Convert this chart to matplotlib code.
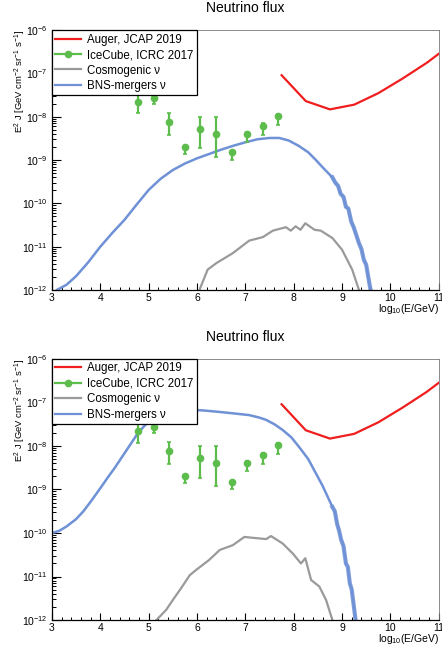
import numpy as np
import matplotlib
matplotlib.use("Agg")
import matplotlib.pyplot as plt
from matplotlib.lines import Line2D
from matplotlib.ticker import LogLocator, NullFormatter, MultipleLocator, FixedLocator

plt.rcParams["font.family"] = ["Liberation Sans", "DejaVu Sans"]
plt.rcParams["mathtext.fontset"] = "custom"
plt.rcParams["mathtext.rm"] = "Liberation Sans"
plt.rcParams["mathtext.it"] = "Liberation Sans:italic"
plt.rcParams["mathtext.bf"] = "Liberation Sans:bold"

# ---- datos (x = log10 E/GeV) ----
auger_x = [7.75, 8.25, 8.75, 9.25, 9.75, 10.25, 10.75, 11.25]
auger_y = [9.1e-8, 2.3e-8, 1.48e-8, 1.9e-8, 3.5e-8, 7.6e-8, 1.75e-7, 4.6e-7]

ice_x = [4.78, 5.10, 5.42, 5.75, 6.07, 6.40, 6.72, 7.04, 7.36, 7.68]
ice_y = [2.2e-8, 2.7e-8, 7.7e-9, 2.0e-9, 5.2e-9, 4.1e-9, 1.5e-9, 4.0e-9, 6.1e-9, 1.03e-8]
ice_lo = [1.2e-8, 1.95e-8, 3.8e-9, 1.4e-9, 1.86e-9, 1.2e-9, 1.0e-9, 2.6e-9, 3.8e-9, 6.6e-9]
ice_hi = [3.3e-8, 3.3e-8, 1.23e-8, 2.1e-9, 1.0e-8, 1.0e-8, 1.55e-9, 4.5e-9, 7.0e-9, 1.15e-8]

# panel superior (log10 de E^2 J)
bns1_x = [3.05, 3.10, 3.30, 3.50, 3.75, 4.00, 4.25, 4.50, 4.75, 5.00, 5.25, 5.50, 5.75,
          6.00, 6.25, 6.50, 6.75, 7.00, 7.25, 7.50, 7.70, 7.90, 8.10, 8.30, 8.46, 8.60,
          8.80, 8.86, 8.92, 8.97, 9.03, 9.08, 9.13, 9.19, 9.24, 9.30, 9.35, 9.40, 9.45,
          9.50, 9.55, 9.59, 9.62]
bns1_logy = [-12.1, -12.0, -11.88, -11.68, -11.36, -11.0, -10.68, -10.38, -10.03, -9.69,
             -9.43, -9.23, -9.08, -8.96, -8.86, -8.76, -8.67, -8.59, -8.52, -8.49, -8.49,
             -8.55, -8.67, -8.82, -9.0, -9.17, -9.40, -9.52, -9.60, -9.78, -9.85, -10.08,
             -10.12, -10.42, -10.55, -10.75, -10.92, -11.05, -11.30, -11.42, -11.75,
             -12.0, -12.2]
cos1_x = [6.05, 6.22, 6.40, 6.74, 7.08, 7.36, 7.57, 7.84, 7.94, 8.04, 8.14, 8.24, 8.43,
          8.56, 8.80, 9.00, 9.21, 9.35]
cos1_logy = [-12.0, -11.53, -11.38, -11.15, -10.86, -10.78, -10.63, -10.55, -10.63,
             -10.53, -10.61, -10.46, -10.61, -10.63, -10.80, -11.07, -11.53, -12.0]

# panel inferior
bns2_x = [3.0, 3.15, 3.30, 3.50, 3.65, 3.80, 4.00, 4.15, 4.30, 4.45, 4.60, 4.75, 4.90,
          5.02, 5.20, 5.36, 5.55, 5.78, 6.10, 6.40, 6.75, 7.08, 7.30, 7.43, 7.60, 7.77,
          7.95, 8.11, 8.30, 8.46, 8.60, 8.80, 8.85, 8.90, 8.94, 8.98, 9.03, 9.08, 9.12,
          9.16, 9.20, 9.24, 9.28, 9.30]
bns2_logy = [-10.0, -9.95, -9.85, -9.68, -9.50, -9.28, -8.97, -8.73, -8.50, -8.25, -8.0,
             -7.75, -7.55, -7.43, -7.32, -7.25, -7.20, -7.17, -7.18, -7.21, -7.25, -7.29,
             -7.35, -7.40, -7.50, -7.63, -7.80, -8.02, -8.30, -8.63, -8.92, -9.40, -9.50,
             -9.80, -9.95, -10.15, -10.30, -10.70, -10.78, -11.15, -11.30, -11.65, -12.0,
             -12.1]
cos2_x = [5.16, 5.36, 5.50, 5.67, 5.85, 5.98, 6.25, 6.47, 6.74, 6.98, 7.15, 7.43, 7.53,
          7.77, 7.98, 8.15, 8.24, 8.36, 8.53, 8.67, 8.80]
cos2_logy = [-12.0, -11.77, -11.54, -11.27, -10.97, -10.85, -10.62, -10.39, -10.28,
             -10.09, -10.11, -10.14, -10.07, -10.24, -10.47, -10.70, -10.58, -11.08,
             -11.23, -11.54, -12.0]

y_decades = [1e-12, 1e-11, 1e-10, 1e-9, 1e-8, 1e-7, 1e-6]

RED = "#f01e1e"
GREEN = "#5cbd4c"
GREY = "#9a9a9a"
BLUE = "#6f91d6"


def draw_panel(ax, bns_x, bns_logy, cos_x, cos_logy):
    ax.set_yscale("log")
    ax.set_xlim(3, 11)
    ax.set_ylim(1e-12, 1e-6)

    ax.plot(auger_x, auger_y, color=RED, lw=1.6, zorder=3)

    y = np.array(ice_y)
    yerr = [y - np.array(ice_lo), np.array(ice_hi) - y]
    ax.errorbar(ice_x, ice_y, yerr=yerr, fmt="o", color=GREEN, ms=4.5, elinewidth=1.6,
                capsize=1.2, capthick=1.2, zorder=4)

    ax.plot(cos_x, 10.0 ** np.array(cos_logy), color=GREY, lw=1.6, zorder=2)

    bx = np.array(bns_x)
    by = 10.0 ** np.array(bns_logy)
    ax.plot(bx, by, color=BLUE, lw=1.8, zorder=2)
    # banda ruidosa en la caida
    tail = bx >= 8.8
    ax.plot(bx[tail], by[tail], color=BLUE, lw=3.0, alpha=0.85, zorder=2)

    ax.set_title("Neutrino flux", fontsize=10, pad=13)

    # ejes estilo ROOT
    ax.xaxis.set_major_locator(FixedLocator(range(3, 12)))
    ax.xaxis.set_minor_locator(MultipleLocator(0.2))
    ax.yaxis.set_major_locator(FixedLocator(y_decades))
    ax.yaxis.set_minor_locator(LogLocator(base=10, subs=np.arange(2, 10), numticks=20))
    ax.yaxis.set_minor_formatter(NullFormatter())
    ax.tick_params(axis="both", which="both", direction="in", labelsize=7.5, color="black")
    ax.tick_params(axis="y", which="major", length=6.5, width=0.8, pad=3)
    ax.tick_params(axis="y", which="minor", length=3.2, width=0.7)
    ax.tick_params(axis="x", which="major", length=5, width=0.8, pad=2)
    ax.tick_params(axis="x", which="minor", length=2.5, width=0.7)
    for side in ["top", "right"]:
        ax.spines[side].set_color("#777777")
        ax.spines[side].set_linewidth(0.6)
    for side in ["left", "bottom"]:
        ax.spines[side].set_linewidth(0.9)

    ax.text(1.0, -0.045, "log$_{10}$(E/GeV)", transform=ax.transAxes, ha="right",
            va="top", fontsize=7.5)

    handles = [
        Line2D([], [], color=RED, lw=1.6),
        Line2D([], [], color=GREEN, lw=1.6, marker="o", ms=4.5),
        Line2D([], [], color=GREY, lw=1.6),
        Line2D([], [], color=BLUE, lw=1.6),
    ]
    labels = ["Auger, JCAP 2019", "IceCube, ICRC 2017", "Cosmogenic \u03bd",
              "BNS-mergers \u03bd"]
    leg = ax.legend(handles, labels, loc="upper left", bbox_to_anchor=(0, 1),
                    borderaxespad=0, fontsize=8.3, fancybox=False, framealpha=1,
                    edgecolor="black", handlelength=2.2, handletextpad=0.55,
                    labelspacing=0.3, borderpad=0.3)
    leg.get_frame().set_linewidth(0.9)


fig = plt.figure(figsize=(4.42, 6.48), dpi=100)
ax1 = fig.add_axes([0.1176, 0.5525, 0.875, 0.401])
ax2 = fig.add_axes([0.1176, 0.0432, 0.875, 0.4028])

draw_panel(ax1, bns1_x, bns1_logy, cos1_x, cos1_logy)
draw_panel(ax2, bns2_x, bns2_logy, cos2_x, cos2_logy)

ylab = "E$^{2}$ J [GeV cm$^{-2}$ sr$^{-1}$ s$^{-1}$]"
fig.text(20 / 442, 1 - 30 / 648, ylab, rotation=90, ha="center", va="top", fontsize=6.8)
fig.text(20 / 442, 1 - 359 / 648, ylab, rotation=90, ha="center", va="top", fontsize=6.8)

fig.savefig("out.png", dpi=100)
